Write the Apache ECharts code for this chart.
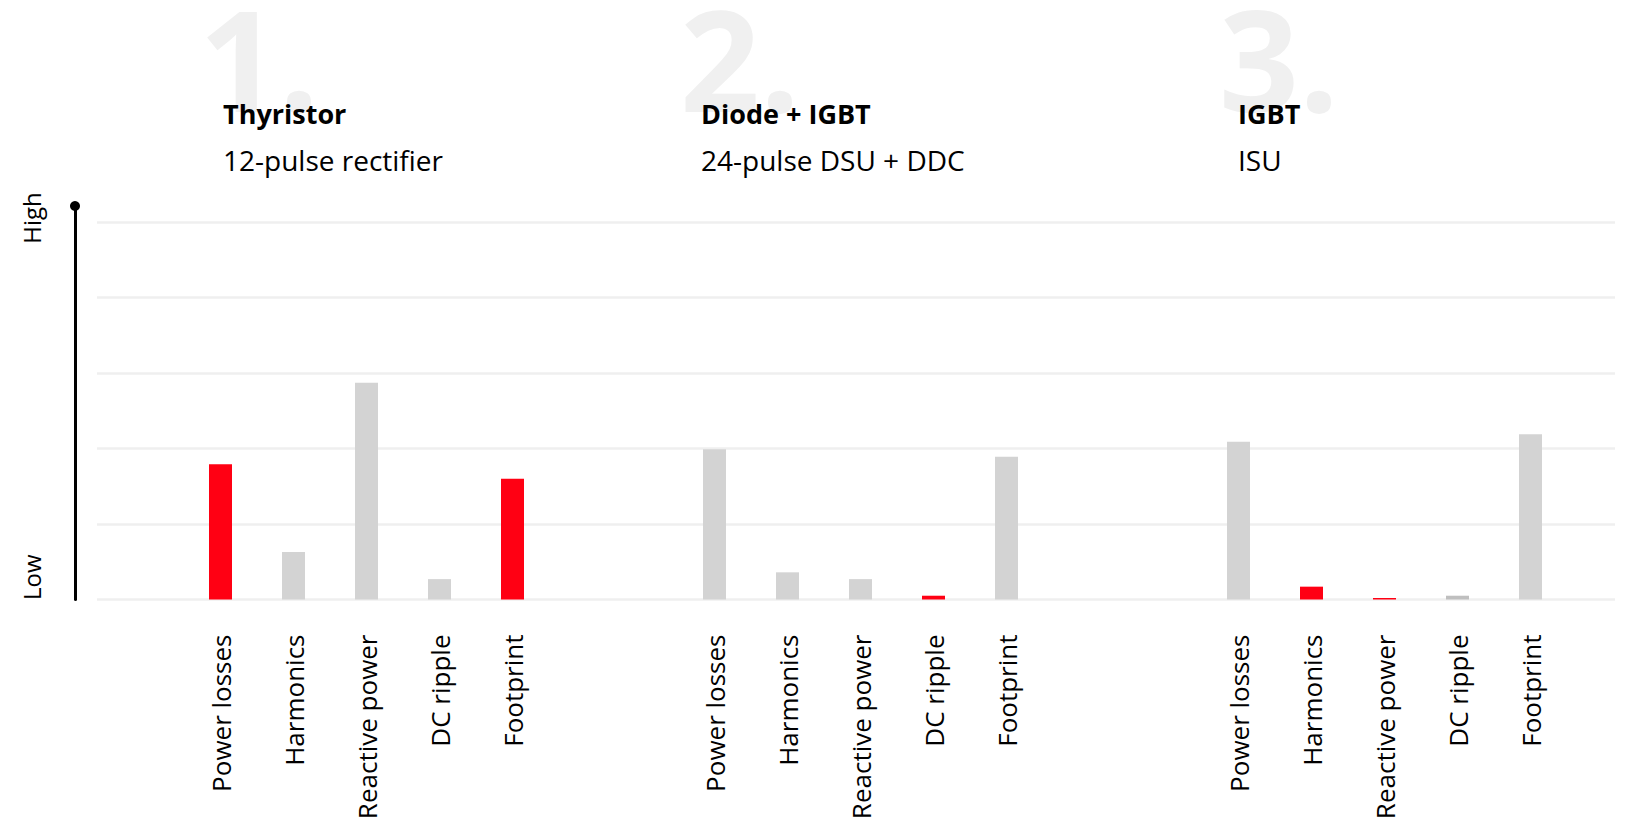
<!DOCTYPE html>
<html>
<head>
<meta charset="utf-8">
<script src="https://cdn.jsdelivr.net/npm/echarts@6/dist/echarts.min.js"></script>
<style>
  html, body { margin: 0; padding: 0; background: #ffffff; }
  #chart { width: 1628px; height: 820px; }
</style>
</head>
<body>
<div id="chart"></div>
<script>
// Evaluation criteria shared by every converter topology
const categories = ['Power losses', 'Harmonics', 'Reactive power', 'DC ripple', 'Footprint'];

// Topology headings
const groupNumbers = ['1.', '2.', '3.'];
const groupTitles = ['Thyristor', 'Diode + IGBT', 'IGBT'];
const groupSubtitles = ['12-pulse rectifier', '24-pulse DSU + DDC', 'ISU'];

// Relative rating per criterion (0 = low, 5 = high)
const thyristorValues = [1.79, 0.63, 2.87, 0.27, 1.60];
const diodeIgbtValues = [1.99, 0.36, 0.27, 0.05, 1.89];
const igbtValues      = [2.09, 0.17, 0.02, 0.05, 2.19];

// Which criteria are called out for each topology
const thyristorStatus = ['key', 'normal', 'normal', 'normal', 'key'];
const diodeIgbtStatus = ['normal', 'normal', 'normal', 'key', 'normal'];
const igbtStatus      = ['normal', 'key', 'key', 'minor', 'normal'];

// Rating scale
const scaleMin = 0;
const scaleMax = 5;
const scaleStep = 1;
const scaleLabels = ['High', 'Low'];

const groupValues = [thyristorValues, diodeIgbtValues, igbtValues];
const groupStatus = [thyristorStatus, diodeIgbtStatus, igbtStatus];

// ---- presentation ----
const FONT = '"Open Sans", "Noto Sans", sans-serif';
const statusColor = { key: '#ff0013', normal: '#d3d3d3', minor: '#bfbfbf' };
const plotTop = 222;
const plotHeight = 377.5;
const slot = 73;
const groupLeft = [184, 678, 1202];
const headingLeft = [223, 701, 1238];
const numberLeft = [199, 680, 1219];

const chart = echarts.init(document.getElementById('chart'), null, { renderer: 'svg' });

// grids keep their exact boxes even when long labels approach the canvas edge
const fixedBox = { outerBoundsMode: 'none', containLabel: false };

const grids = [
  // background grid carrying the horizontal split lines
  Object.assign({ left: 97, width: 1518, top: plotTop, height: plotHeight }, fixedBox),
  ...groupLeft.map(l => Object.assign({ left: l, width: slot * 5, top: plotTop, height: plotHeight }, fixedBox)),
  // vertical Low -> High indicator axis
  Object.assign({ left: 75, width: 1, top: 206, height: plotHeight + 16 }, fixedBox)
];

const xAxes = [
  { gridIndex: 0, type: 'value', show: false },
  ...groupLeft.map((_, i) => ({
    gridIndex: i + 1,
    type: 'category',
    data: categories,
    axisLine: { show: false },
    axisTick: { show: false },
    axisLabel: {
      interval: 0,
      rotate: 90,
      margin: 35,
      fontSize: 26,
      fontFamily: FONT,
      color: '#000000'
    }
  })),
  { gridIndex: 4, type: 'value', show: false, min: 0, max: 1 }
];

const yAxes = [
  {
    gridIndex: 0, type: 'value', min: scaleMin, max: scaleMax, interval: scaleStep,
    axisLine: { show: false }, axisTick: { show: false }, axisLabel: { show: false },
    splitLine: { show: true, lineStyle: { color: '#efefef', width: 2.5 } }
  },
  ...groupLeft.map((_, i) => ({
    gridIndex: i + 1, type: 'value', min: scaleMin, max: scaleMax, show: false
  })),
  {
    gridIndex: 4, type: 'value', min: 0, max: 1,
    axisLine: {
      show: true, onZero: false,
      symbol: ['none', 'circle'], symbolSize: [10, 10],
      lineStyle: { color: '#000000', width: 3 }
    },
    axisTick: { show: false }, axisLabel: { show: false }, splitLine: { show: false }
  }
];

const series = groupValues.map((vals, g) => ({
  type: 'bar',
  xAxisIndex: g + 1,
  yAxisIndex: g + 1,
  barWidth: 23,
  silent: true,
  data: vals.map((v, k) => ({
    value: v,
    itemStyle: { color: statusColor[groupStatus[g][k]] }
  }))
}));

const graphics = [];
groupNumbers.forEach((num, g) => {
  graphics.push({
    type: 'text', z: 0, silent: true,
    style: {
      x: numberLeft[g], y: 57, text: num,
      font: 'bold 140px ' + FONT, lineHeight: 100, fill: '#f0f0f0',
      textAlign: 'left', textVerticalAlign: 'middle'
    }
  });
});
groupTitles.forEach((t, g) => {
  graphics.push({
    type: 'text', z: 10, silent: true,
    style: {
      x: headingLeft[g], y: 113, text: t,
      font: 'bold 27px ' + FONT, fill: '#000000',
      textAlign: 'left', textVerticalAlign: 'middle'
    }
  });
  graphics.push({
    type: 'text', z: 10, silent: true,
    style: {
      x: headingLeft[g], y: 160, text: groupSubtitles[g],
      font: '28px ' + FONT, fill: '#000000',
      textAlign: 'left', textVerticalAlign: 'middle'
    }
  });
});
// scale end labels, reading bottom to top
graphics.push({
  type: 'text', silent: true, x: 31, y: 218, rotation: Math.PI / 2,
  style: { text: scaleLabels[0], font: '24px ' + FONT, fill: '#000000', textAlign: 'center', textVerticalAlign: 'middle' }
});
graphics.push({
  type: 'text', silent: true, x: 31, y: 600, rotation: Math.PI / 2,
  style: { text: scaleLabels[1], font: '24px ' + FONT, fill: '#000000', textAlign: 'left', textVerticalAlign: 'middle' }
});

chart.setOption({
  backgroundColor: '#ffffff',
  animation: false,
  grid: grids,
  xAxis: xAxes,
  yAxis: yAxes,
  series: series,
  graphic: { elements: graphics }
});
</script>
</body>
</html>
